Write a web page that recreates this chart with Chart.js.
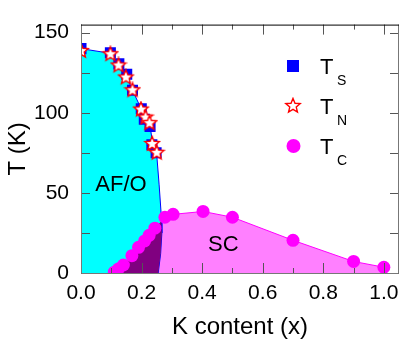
<!DOCTYPE html>
<html>
<head>
<meta charset="utf-8">
<script src="https://cdn.jsdelivr.net/npm/chart.js@4"></script>
<style>
  html, body { margin: 0; padding: 0; background: #fff; }
  #wrap { width: 415px; height: 342px; }
</style>
</head>
<body>
<div id="wrap"><canvas id="chart"></canvas></div>
<script>
// Data
const tsX = [0.0, 0.097, 0.125, 0.151, 0.17, 0.199, 0.209, 0.228, 0.234, 0.248];
const tsT = [140, 137.5, 130.5, 124, 114, 102.5, 96, 91.5, 80, 75];

const tnX = [0.0, 0.097, 0.124, 0.148, 0.17, 0.198, 0.213, 0.226, 0.235, 0.25];
const tnT = [138.5, 136.5, 129.5, 122, 114, 102, 97, 93.5, 80.5, 75];

const tcX = [0.11, 0.123, 0.14, 0.168, 0.19, 0.21, 0.225, 0.244, 0.277, 0.304, 0.403, 0.5, 0.7, 0.9, 1.0];
const tcT = [0.5, 2.5, 5, 10.8, 16, 20, 23.5, 28, 34.8, 36.6, 38.4, 34.8, 20.4, 7.2, 3.6];

// AF/O phase boundary
const afX = [0, 0.1, 0.125, 0.15, 0.17, 0.2, 0.215, 0.228, 0.237, 0.25, 0.258, 0.265, 0.267, 0.263, 0.255];
const afT = [140, 137, 130, 123, 114, 102, 96, 92, 80, 74, 55, 36, 25, 12, 0];

const xTicks = [0, 0.2, 0.4, 0.6, 0.8, 1.0];
const yTicks = [0, 50, 100, 150];

const FONT = "'Liberation Sans', Arial, sans-serif";

const toPts = (xs, ys) => xs.map((x, i) => ({ x: x, y: ys[i] }));
const tsPts = toPts(tsX, tsT);
const tnPts = toPts(tnX, tnT);
const tcPts = toPts(tcX, tcT);
const afPts = toPts(afX, afT);

// closed AF/O region
const afPoly = afPts.concat([{ x: 0, y: 0 }]);

// coexistence region: under Tc line, left of AF/O boundary
function segHit(a, b, c, d) {
  const den = (b.x - a.x) * (d.y - c.y) - (b.y - a.y) * (d.x - c.x);
  if (!den) return null;
  const t = ((c.x - a.x) * (d.y - c.y) - (c.y - a.y) * (d.x - c.x)) / den;
  const u = ((c.x - a.x) * (b.y - a.y) - (c.y - a.y) * (b.x - a.x)) / den;
  if (t < 0 || t > 1 || u < 0 || u > 1) return null;
  return { x: a.x + t * (b.x - a.x), y: a.y + t * (b.y - a.y) };
}
function overlapPoly() {
  for (let i = 0; i < tcPts.length - 1; i++) {
    for (let j = 0; j < afPts.length - 1; j++) {
      const p = segHit(tcPts[i], tcPts[i + 1], afPts[j], afPts[j + 1]);
      if (p) {
        return tcPts.slice(0, i + 1).concat([p], afPts.slice(j + 1), [{ x: tcPts[0].x, y: 0 }]);
      }
    }
  }
  return [];
}

// open red star with white inside
function makeStar(size, lw) {
  const c = document.createElement('canvas');
  c.width = c.height = size;
  const g = c.getContext('2d');
  const ro = size / 2 - lw, ri = ro * 0.45;
  g.beginPath();
  for (let i = 0; i < 10; i++) {
    const r = i % 2 ? ri : ro;
    const a = -Math.PI / 2 + i * Math.PI / 5;
    g.lineTo(size / 2 + r * Math.cos(a), size / 2 + r * Math.sin(a));
  }
  g.closePath();
  g.fillStyle = '#fff';
  g.fill();
  g.strokeStyle = '#ff0000';
  g.lineWidth = lw;
  g.stroke();
  return c;
}
const starImg = makeStar(18, 1.4);

// inward ticks + frame
const framePlugin = {
  id: 'frame',
  afterDatasetsDraw(chart) {
    const { ctx, chartArea: a, scales: { x, y } } = chart;
    ctx.save();
    ctx.strokeStyle = '#555';
    ctx.lineWidth = 1;
    ctx.beginPath();
    for (let v = 0; v <= 1.0001; v += 0.1) {
      const px = Math.round(x.getPixelForValue(v)) + 0.5;
      const len = Math.round(v * 10) % 2 === 0 ? 10 : 5;
      ctx.moveTo(px, a.bottom); ctx.lineTo(px, a.bottom - len);
      ctx.moveTo(px, a.top); ctx.lineTo(px, a.top + len);
    }
    for (let v = 0; v <= 150; v += 25) {
      const py = Math.round(y.getPixelForValue(v)) + 0.5;
      ctx.moveTo(a.left, py); ctx.lineTo(a.left + 9, py);
      ctx.moveTo(a.right, py); ctx.lineTo(a.right - 9, py);
    }
    ctx.stroke();
    ctx.strokeStyle = '#777';
    ctx.beginPath();
    ctx.moveTo(a.left + 0.5, a.top); ctx.lineTo(a.left + 0.5, a.bottom + 0.5);
    ctx.lineTo(a.right - 0.5, a.bottom + 0.5); ctx.lineTo(a.right - 0.5, a.top);
    ctx.stroke();
    ctx.strokeStyle = '#000';
    ctx.beginPath();
    ctx.moveTo(a.left, a.top + 0.5); ctx.lineTo(a.right, a.top + 0.5);
    ctx.stroke();

    // region labels
    ctx.fillStyle = '#000';
    ctx.font = '22px ' + FONT;
    ctx.textAlign = 'center';
    ctx.textBaseline = 'middle';
    ctx.fillText('AF/O', x.getPixelForValue(0.132), y.getPixelForValue(55));
    ctx.fillText('SC', x.getPixelForValue(0.47), y.getPixelForValue(17.5));
    ctx.restore();
  },
  afterDraw(chart) {
    const ctx = chart.ctx;
    ctx.save();
    const items = [
      { sub: 'S', y: 66 },
      { sub: 'N', y: 106 },
      { sub: 'C', y: 146 }
    ];
    // markers
    ctx.fillStyle = '#0000ff';
    ctx.fillRect(287, 60, 12, 12);
    ctx.drawImage(starImg, 293 - 9, 106 - 9);
    ctx.fillStyle = '#ff00ff';
    ctx.beginPath();
    ctx.arc(293.5, 146, 7, 0, Math.PI * 2);
    ctx.fill();
    ctx.fillStyle = '#000';
    ctx.textAlign = 'left';
    ctx.textBaseline = 'alphabetic';
    items.forEach(it => {
      ctx.font = '22px ' + FONT;
      ctx.fillText('T', 320, it.y + 7.5);
      ctx.font = '14px ' + FONT;
      ctx.fillText(it.sub, 337, it.y + 19);
    });
    ctx.restore();
  }
};

new Chart(document.getElementById('chart'), {
  type: 'scatter',
  data: {
    datasets: [
      {
        label: 'TN',
        data: tnPts,
        pointStyle: starImg,
        pointRadius: 9,
        order: 0
      },
      {
        label: 'TS',
        data: tsPts,
        pointStyle: 'rect',
        pointRadius: 7.8,
        backgroundColor: '#0000ff',
        borderWidth: 0,
        order: 1
      },
      {
        label: 'TC',
        data: tcPts,
        pointStyle: 'circle',
        pointRadius: 6.5,
        backgroundColor: '#ff00ff',
        borderWidth: 0,
        order: 2
      },
      {
        label: 'coexist',
        data: overlapPoly(),
        showLine: true,
        fill: 'shape',
        backgroundColor: '#800080',
        borderWidth: 0,
        pointRadius: 0,
        order: 3
      },
      {
        label: 'AF/O edge',
        data: afPts,
        showLine: true,
        fill: false,
        borderColor: '#0000ff',
        borderWidth: 1,
        pointRadius: 0,
        order: 4
      },
      {
        label: 'AF/O',
        data: afPoly,
        showLine: true,
        fill: 'shape',
        backgroundColor: '#00ffff',
        borderWidth: 0,
        pointRadius: 0,
        order: 5
      },
      {
        label: 'SC',
        data: tcPts,
        showLine: true,
        fill: 'origin',
        backgroundColor: '#ff80ff',
        borderColor: '#ff00ff',
        borderWidth: 1,
        pointRadius: 0,
        order: 6
      }
    ]
  },
  options: {
    responsive: true,
    maintainAspectRatio: false,
    devicePixelRatio: 1,
    animation: false,
    layout: { padding: { top: 15, right: 16, left: 0, bottom: 0 } },
    plugins: {
      legend: { display: false },
      tooltip: { enabled: false }
    },
    scales: {
      x: {
        type: 'linear',
        min: 0,
        max: 1.05,
        afterBuildTicks: s => { s.ticks = xTicks.map(v => ({ value: v })); },
        afterFit: s => { s.height = 69; },
        grid: { display: false, drawTicks: false },
        border: { display: false },
        ticks: {
          padding: 8,
          color: '#000',
          font: { family: FONT, size: 21 },
          callback: v => v.toFixed(1)
        },
        title: {
          display: true,
          text: 'K content (x)',
          color: '#000',
          font: { family: FONT, size: 24 },
          padding: { top: 0, bottom: 0 }
        }
      },
      y: {
        type: 'linear',
        min: 0,
        max: 155,
        afterBuildTicks: s => { s.ticks = yTicks.map(v => ({ value: v })); },
        afterFit: s => { s.width = 81; },
        grid: { display: false, drawTicks: false },
        border: { display: false },
        ticks: {
          padding: 12,
          color: '#000',
          font: { family: FONT, size: 21 }
        },
        title: {
          display: true,
          text: 'T (K)',
          color: '#000',
          font: { family: FONT, size: 24 },
          padding: { top: 4, bottom: 0 }
        }
      }
    }
  },
  plugins: [framePlugin]
});
</script>
</body>
</html>
